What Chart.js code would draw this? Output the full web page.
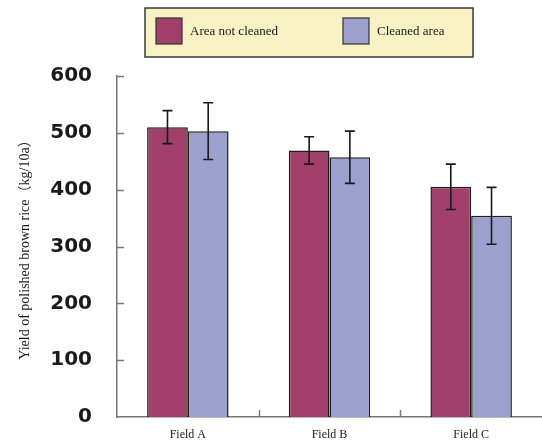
<!DOCTYPE html>
<html>
<head>
<meta charset="utf-8">
<script src="https://cdn.jsdelivr.net/npm/chart.js@4.4.1/dist/chart.umd.min.js"></script>
<style>
  html, body { margin: 0; padding: 0; background: #fff; overflow: hidden; }
  canvas { display: block; }
</style>
</head>
<body>
<canvas id="myChart" width="542" height="443"></canvas>
<script>
// data
const fields = ['Field A', 'Field B', 'Field C'];
const notCleaned = [510, 469, 405];
const notCleanedErr = [29, 24, 40];
const cleaned = [503, 457, 354];
const cleanedErr = [50, 46, 50];
const seriesNames = ['Area not cleaned', 'Cleaned area'];
const yTitle = 'Yield of polished brown rice（kg/10a）';

const errors = [notCleanedErr, cleanedErr];

// error bars, drawn from the value scale
const errorBars = {
  id: 'errorBars',
  afterDatasetsDraw(chart) {
    const ctx = chart.ctx;
    const y = chart.scales.y;
    ctx.save();
    ctx.strokeStyle = '#1a1a1a';
    ctx.lineWidth = 1.6;
    chart.data.datasets.forEach((ds, di) => {
      const meta = chart.getDatasetMeta(di);
      meta.data.forEach((bar, i) => {
        const v = ds.data[i];
        const e = errors[di][i];
        const top = y.getPixelForValue(v + e);
        const bot = y.getPixelForValue(v - e);
        ctx.beginPath();
        ctx.moveTo(bar.x, top); ctx.lineTo(bar.x, bot);
        ctx.moveTo(bar.x - 5, top); ctx.lineTo(bar.x + 5, top);
        ctx.moveTo(bar.x - 5, bot); ctx.lineTo(bar.x + 5, bot);
        ctx.stroke();
      });
    });
    ctx.restore();
  }
};

// tick marks pointing into the plot
const innerTicks = {
  id: 'innerTicks',
  afterDraw(chart) {
    const ctx = chart.ctx;
    const { x, y } = chart.scales;
    const area = chart.chartArea;
    ctx.save();
    ctx.strokeStyle = '#777';
    ctx.lineWidth = 1.5;
    ctx.beginPath();
    y.ticks.forEach(t => {
      if (t.value === 0) return;
      const py = Math.round(y.getPixelForValue(t.value)) + 0.5;
      ctx.moveTo(area.left, py); ctx.lineTo(area.left + 7, py);
    });
    for (let i = 0; i < fields.length - 1; i++) {
      const px = Math.round(x.getPixelForValue(i + 0.5)) + 0.5;
      ctx.moveTo(px, area.bottom); ctx.lineTo(px, area.bottom - 7);
    }
    ctx.stroke();
    ctx.restore();
  }
};

// boxed legend on a pale yellow background
const boxLegend = {
  id: 'boxLegend',
  afterDraw(chart) {
    const ctx = chart.ctx;
    ctx.save();
    ctx.fillStyle = '#f8f1c3';
    ctx.fillRect(145, 8, 328, 49);
    ctx.strokeStyle = '#3a3a3a';
    ctx.lineWidth = 1.5;
    ctx.strokeRect(145, 8, 328, 49);
    const spots = [156, 343];
    ctx.font = '13px "Liberation Serif", "Times New Roman", serif';
    ctx.textBaseline = 'middle';
    chart.data.datasets.forEach((ds, i) => {
      const sx = spots[i];
      ctx.fillStyle = ds.backgroundColor;
      ctx.fillRect(sx, 18, 26, 26);
      ctx.strokeStyle = '#333';
      ctx.lineWidth = 1.2;
      ctx.strokeRect(sx, 18, 26, 26);
      ctx.fillStyle = '#1a1a1a';
      ctx.fillText(ds.label, sx + 34, 31.5);
    });
    ctx.restore();
  }
};

new Chart(document.getElementById('myChart'), {
  type: 'bar',
  data: {
    labels: fields,
    datasets: [{
      label: seriesNames[0],
      data: notCleaned,
      backgroundColor: '#a1406b',
      borderColor: '#1e1e1e',
      borderWidth: 1.5,
      borderSkipped: 'bottom'
    }, {
      label: seriesNames[1],
      data: cleaned,
      backgroundColor: '#9ca0cd',
      borderColor: '#1e1e1e',
      borderWidth: 1.5,
      borderSkipped: 'bottom'
    }]
  },
  options: {
    responsive: false,
    animation: false,
    layout: { padding: { top: 76, right: 0, bottom: 0, left: 0 } },
    datasets: { bar: { barPercentage: 1, categoryPercentage: 0.575 } },
    plugins: {
      legend: { display: false },
      tooltip: { enabled: false }
    },
    scales: {
      x: {
        grid: { display: false, drawTicks: false },
        border: { display: true, color: '#777', width: 1.5 },
        ticks: {
          padding: 11,
          color: '#1a1a1a',
          font: { family: '"Liberation Serif", "Times New Roman", serif', size: 12 }
        },
        afterFit(scale) { scale.height = 24; }
      },
      y: {
        min: 0,
        max: 600,
        grid: { display: false, drawTicks: false },
        border: { display: true, color: '#777', width: 1.5 },
        ticks: {
          stepSize: 100,
          padding: 25,
          color: '#1a1a1a',
          // tiny line height so the "0" label does not push the plot up
          font: { family: '"DejaVu Sans", sans-serif', size: 20, weight: 'bold', lineHeight: 0.1 }
        },
        title: {
          display: true,
          text: yTitle,
          color: '#1a1a1a',
          padding: { top: 17, bottom: 0 },
          font: { family: '"Liberation Serif", "Noto Sans CJK JP", serif', size: 14 }
        },
        afterFit(scale) { scale.width = 117; }
      }
    }
  },
  plugins: [errorBars, innerTicks, boxLegend]
});
</script>
</body>
</html>
